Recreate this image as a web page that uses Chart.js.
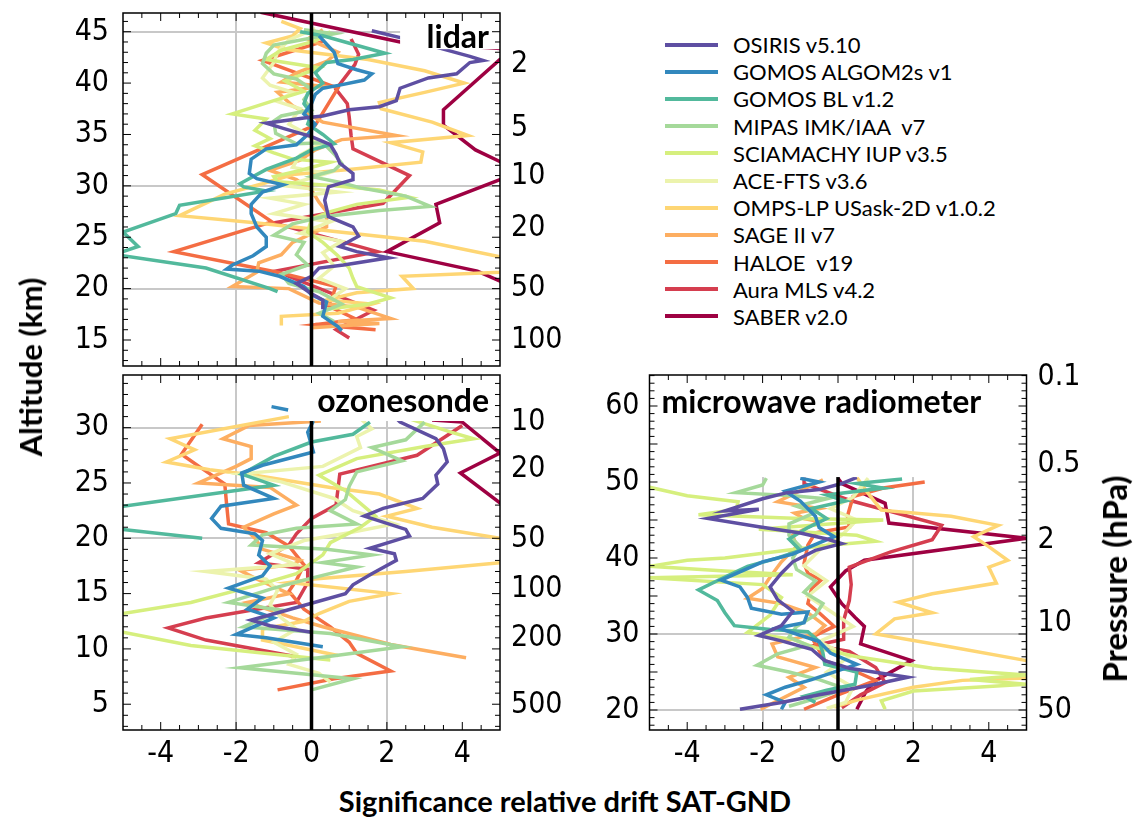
<!DOCTYPE html>
<html>
<head>
<meta charset="utf-8">
<script src="https://cdn.jsdelivr.net/npm/chart.js@4.4.0/dist/chart.umd.min.js"></script>
<style>
  body { margin: 0; background: #fff; width: 1134px; height: 819px; position: relative; overflow: hidden; font-family: Lato, "Open Sans", sans-serif; }
  canvas { position: absolute; }
  #lidar { left: 0; top: 0; }
  #sonde { left: 0; top: 340px; }
  #mwr { left: 570px; top: 340px; }
  .title { position: absolute; font-weight: bold; white-space: nowrap; color: #000; }
  #ytitle { left: 30px; top: 367px; font-size: 31px; transform: translate(-50%, -50%) rotate(-90deg); }
  #ptitle { left: 1114px; top: 579px; font-size: 33px; transform: translate(-50%, -50%) rotate(-90deg); }
  #xtitle { left: 565px; top: 800px; font-size: 29px; transform: translate(-50%, -50%); }
  #legend { position: absolute; left: 665px; top: 31px; }
  .item { height: 27.2px; display: flex; align-items: center; white-space: pre; font-size: 22px; color: #000; }
  .swatch { width: 53px; height: 4px; margin-right: 15px; }
</style>
</head>
<body>
<canvas id="lidar" width="570" height="372"></canvas>
<canvas id="sonde" width="570" height="442"></canvas>
<canvas id="mwr" width="564" height="442"></canvas>
<div class="title" id="ytitle">Altitude (km)</div>
<div class="title" id="ptitle">Pressure (hPa)</div>
<div class="title" id="xtitle">Significance relative drift SAT-GND</div>
<div id="legend"></div>
<script>
// Séries (ordem da legenda)
const seriesNames = ["OSIRIS v5.10", "GOMOS ALGOM2s v1", "GOMOS BL v1.2", "MIPAS IMK/IAA  v7", "SCIAMACHY IUP v3.5",
  "ACE-FTS v3.6", "OMPS-LP USask-2D v1.0.2", "SAGE II v7", "HALOE  v19", "Aura MLS v4.2", "SABER v2.0"];
const seriesColors = ["#5e4fa2", "#3288bd", "#52b99c", "#a5d99a", "#d6ef7e", "#ecf3ad", "#fed674", "#fdae61", "#f46d43", "#d53e4f", "#9e0142"];

// Eixos
const xTicks = [-4, -2, 0, 2, 4];
const xGrid = [-2, 2];

// --- lidar: [significance, altitude km] ---
const lidarAltTicks = [15, 20, 25, 30, 35, 40, 45];
const lidarGrid = [20, 30, 45];
const lidarPressLabels = ["2", "5", "10", "20", "50", "100"];
const lidarPressAlts = [41.8, 35.6, 30.9, 25.9, 20.0, 15.0];

const lidarOsiris = [[1.6,45.1],[2.6,44.2],[4.2,42.6],[4.55,42.2],[4.2,42.0],[3.85,40.9],[3.1,40.5],[2.35,39.5],[2.25,38.3],[1.8,37.7],[1.0,37.4],[0.3,36.8],[-0.2,36.6],[-1.2,36.1],[-0.75,35.6],[0,34.8],[0.5,34.0],[0.65,33.1],[0.75,32.2],[1.1,31.2],[1.1,30.6],[0.45,29.9],[0.35,28.6],[0.45,27.0],[1.1,26.0],[1.25,25.1],[0.75,24.1],[1.2,23.6],[2.05,23.0],[0.85,22.3],[0.2,22.0],[0,21.2],[-0.4,20.5],[0,19.5],[0.3,18.9],[0.3,18.0]];
const lidarAlgom = [[0.2,44.6],[0.6,43.0],[0.7,41.9],[1.2,41.3],[1.6,40.9],[1.4,40.3],[0.75,39.8],[0.3,39.5],[0.1,38.9],[0,38.0],[-0.2,37.0],[0.1,36.0],[-0.1,35.0],[-0.4,34.0],[-1.2,33.6],[-1.6,32.6],[-1.65,31.2],[-1.45,30.7],[-0.75,30.1],[-1.3,29.4],[-1.6,28.2],[-1.6,27.3],[-1.45,26.0],[-1.2,25.0],[-1.2,24.1],[-1.55,23.2],[-2.1,22.3],[-2.25,21.9],[-1.4,21.7],[-0.85,21.2],[-0.2,20.2],[0,19.4],[0.4,18.7],[0.3,17.3],[0.7,16.3],[0.8,15.9]];
const lidarGomosBL = [[-0.3,45.0],[0.3,44.6],[1.95,42.9],[1.1,42.3],[0.4,42.0],[0.1,41.0],[0.3,40.0],[-0.1,39.0],[-0.2,38.0],[0,37.0],[-0.1,36.0],[0.3,35.0],[0.6,34.1],[0,33.5],[-0.4,32.7],[-1.2,31.6],[-1.9,30.2],[-1.8,29.9],[-1.2,29.5],[-3.5,28.1],[-3.6,27.3],[-5,25.5],[-4.6,24.1],[-5,23.6],[-5.2,23.3],[-2.8,22.0],[-1.1,20.0],[-0.9,19.7]];
const lidarMipas = [[-0.2,45.2],[0.6,44.8],[-1.0,43.7],[-1.2,42.9],[-1.3,41.9],[-1.0,40.9],[-0.4,40.4],[0,39.4],[-0.2,38.4],[0,37.4],[-0.8,36.8],[-1.0,36.3],[-0.95,35.1],[-0.4,34.1],[0.3,34.2],[0.6,33.1],[0.8,32.2],[0.6,31.5],[0,30.9],[0.8,30.3],[1.3,29.8],[2.5,29.0],[3.15,28.0],[1.8,27.6],[0.3,27.0],[-0.5,26.3],[-1.0,25.2],[-0.2,24.5],[-0.4,23.3],[-0.1,22.3],[-0.8,21.4],[-0.6,20.5],[0.2,19.7],[0.8,18.5],[0.2,17.6],[0.6,16.8]];
const lidarSciamachy = [[0.5,45.0],[0.1,44.1],[-0.8,43.2],[-1.2,42.3],[0.2,41.5],[-0.7,40.2],[-0.2,39.2],[-1.0,38.3],[-2.1,37.0],[-1.2,36.5],[-1.5,35.4],[-1.1,34.6],[-1.5,33.9],[-1.0,33.2],[-0.5,32.6],[0.5,32.3],[-0.3,31.5],[-1.0,30.9],[-0.9,30.4],[0.6,30.0],[1.8,29.6],[2.6,28.9],[1.2,28.2],[0.5,27.5],[0,26.8],[-0.1,25.5],[0.3,24.5],[0.7,23.2],[1.0,22.0],[1.1,21.0],[1.2,20.2],[2.1,19.1],[1.5,18.5],[0.4,18.0]];
const lidarAce = [[0.1,45.3],[-0.6,44.2],[-0.9,43.0],[-1.0,42.0],[-1.3,40.5],[-1.1,39.8],[-0.5,39.1],[-0.9,38.2],[-0.3,37.5],[-0.6,36.0],[-0.2,35.2],[0.2,34.0],[-0.3,33.0],[-0.5,31.8],[0.4,31.2],[-0.7,30.0],[0.7,29.4],[-1.1,28.8],[-0.2,28.2],[-1.0,27.3],[0.5,26.5],[-0.3,25.4],[0.8,24.6],[0.3,23.5],[0.6,22.2],[0.2,21.0],[0.9,20.0],[0.5,19.0]];
const lidarOmps = [[-0.8,46.0],[-0.3,45.3],[-0.5,44.6],[-1.2,43.9],[-0.7,43.3],[0.6,42.7],[1.5,42.3],[3.0,41.2],[4.05,40.0],[3.0,39.1],[1.8,38.1],[1.85,37.5],[3.2,36.2],[4.15,34.9],[2.1,34.2],[2.95,33.3],[2.9,32.3],[1.0,31.6],[-0.5,31.1],[-1.3,30.2],[-2.3,29.2],[-3.5,27.1],[-1.5,26.4],[0.5,25.6],[3.0,24.6],[5.0,23.1],[6.0,22.5],[5.0,21.6],[2.4,21.2],[2.7,20.0],[1.2,19.6],[0.4,18.9],[1.6,18.5],[0.7,17.6],[-0.8,17.3],[-0.8,16.4]];
const lidarSage = [[0.3,45.2],[-0.1,44.3],[0.7,43.0],[0.4,42.1],[-0.4,41.0],[-0.8,40.1],[0.3,39.7],[-0.9,39.1],[-0.5,37.8],[0.3,36.2],[2.25,34.9],[0.8,34.5],[0.1,33.5],[-0.3,32.5],[-1.1,31.5],[-0.4,30.6],[0,29.6],[0.2,28.4],[0.4,27.5],[0.4,26.0],[-0.5,24.5],[-0.8,23.3],[-1.4,22.5],[-1.45,21.6],[-2.1,20.2],[-0.6,20.0],[0.2,18.6],[1.2,18.2],[2.1,17.1],[0.7,16.8],[1.8,16.6],[0,16.2]];
const lidarHaloe = [[0.35,44.1],[-1.3,42.2],[0.7,39.5],[0.1,35.9],[-2.9,31.1],[-1.05,26.5],[-3.65,23.6],[-0.9,21.6],[0.65,20.2],[0.45,18.3],[1.2,17.0],[0.1,16.5],[1.7,16.0]];
const lidarAura = [[1.05,44.3],[1.25,42.8],[1.15,41.8],[0.65,39.4],[0.95,38.0],[1.0,36.7],[1.05,34.9],[1.1,33.6],[2.6,31.0],[1.9,28.3],[-1.0,26.4],[1.75,23.6],[-0.95,21.7],[1.65,17.9],[0.65,16.0],[1.0,15.2]];
const lidarSaber = [[-1.35,46.9],[2.35,44.0],[6.5,43.0],[5.0,42.3],[3.5,37.4],[3.5,35.9],[4.35,33.5],[5.2,32.0],[5.6,31.5],[5.0,30.6],[3.3,28.2],[3.4,26.4],[2.0,23.6],[4.4,21.7],[5.2,20.4],[6.0,19.5]];

// --- ozonesonde ---
const sondeAltTicks = [5, 10, 15, 20, 25, 30];
const sondeGrid = [20, 30];
const sondePressLabels = ["10", "20", "50", "100", "200", "500"];
const sondePressAlts = [30.5, 26.2, 19.9, 15.4, 11.0, 4.9];

const sondeOsiris = [[2.2,31.0],[2.35,30.5],[3.3,29.0],[3.5,28.1],[3.6,26.9],[3.3,25.7],[3.35,24.9],[2.95,23.6],[1.9,22.7],[1.4,22.0],[2.5,20.8],[2.6,20.2],[1.55,19.1],[2.2,18.6],[2.25,18.0],[1.6,16.8],[1.1,15.8],[0.9,15.0],[-0.75,13.4],[-1.6,12.6],[-1.1,12.1],[0,11.5]];
const sondeAlgom = [[-1.06,31.9],[-0.62,31.6],null,[0.05,30.6],[-0.1,29.6],[0.05,27.8],[-1.3,26.6],[-1.85,25.9],[-1.8,24.8],[-1.0,23.6],[-2.4,22.9],[-2.65,21.8],[-2.4,20.9],[-1.5,20.4],[-1.3,19.8],[-1.4,18.5],[-1.1,17.5],[-1.3,16.6],[-2.2,15.5],[-1.3,14.6],[-1.7,13.6],[-1.0,12.8],[-2.0,11.3],[-1.2,11.0],[0.3,10.2]];
const sondeGomosBL = [[1.55,30.5],[1.1,29.4],[0,28.7],[-1.0,27.4],[-1.85,25.8],[-1.0,24.8],[-5,22.9],[-7,22.0],[-5,20.8],[-2.9,20.0]];
const sondeMipas = [[3.0,30.5],[2.5,28.9],[1.6,28.2],[2.4,27.0],[1.2,26.0],[1.0,24.7],[0.9,23.5],[0.5,22.5],[1.2,21.3],[-0.4,20.9],[-1.3,20.3],[-1.6,19.4],[0.4,19.0],[1.6,18.5],[0.3,17.8],[1.2,17.4],[0,16.4],[-1.0,15.5],[-2.2,14.2],[-0.8,13.5],[-1.8,12.0],[0.5,11.4],[2.4,10.2],[0.4,9.3],[-1.9,8.3],[-0.4,7.8],[1.1,7.3],[0,6.3]];
const sondeSciamachy = [[2.6,30.8],[3.7,29.6],[4.3,29.0],[3.0,28.3],[1.2,27.2],[0.2,25.7],[0.9,24.3],[1.7,22.0],[1.3,21.0],[0.5,19.6],[0.3,18.5],[-0.4,16.8],[-1.3,15.9],[-3.2,14.2],[-5,13.2],[-6,12.8],[-5,11.5],[-3.2,10.3],[-1.5,9.7],[0.5,9.0]];
const sondeAce = [[1.3,30.8],[1.6,29.9],[1.2,29.2],[1.3,28.2],[0.3,26.5],[-1.9,25.8],[-0.8,25.1],[0.6,23.6],[1.1,22.5],[2.2,21.3],[1.0,20.5],[-0.2,19.8],[-1.1,18.6],[-0.4,17.6],[-2.8,17.0],[-1.2,16.3],[-0.9,15.3],[-1.1,14.0],[-0.8,12.8],[-0.4,11.8],[-1.0,10.6],[-0.4,9.5],[-0.6,8.6],[0.2,7.8],[0.5,7.0]];
const sondeOmps = [[-0.6,31.0],[-3.75,29.0],[-3.1,28.0],[-3.85,26.9],[-2.7,26.2],[-1.5,25.7],[0.5,24.6],[1.8,24.0],[2.8,22.7],[2.0,22.0],[3.2,21.0],[5.0,20.0],[6.0,19.5],[5.5,18.5],[5.0,17.8],[2.5,17.0],[0,16.3],[-0.6,16.0],[2.1,15.0],[1.0,14.3],[0.2,13.2],[-0.2,12.5],[-1.3,11.8],[-1.3,10.8],[-0.7,10.4],[0.7,9.4]];
const sondeSage = [[0.25,30.6],[-1.65,30.2],[-2.35,29.0],[-1.6,28.3],[-1.6,27.2],[-2.0,26.5],[-3.0,25.0],[-1.1,24.6],[-0.4,23.0],[-1.0,22.2],[-1.8,21.0],[-1.5,20.0],[-1.3,19.0],[-0.3,18.0],[-0.5,17.6],[-1.9,17.1],[-1.5,16.4],[-0.6,15.0],[-1.7,14.2],[-0.5,12.8],[0.3,12.0],[2.1,10.4],[4.1,9.2]];
const sondeHaloe = [[-2.9,30.3],[-3.45,27.6],[-2.9,26.3],[-2.3,24.9],[-2.25,23.0],[-2.2,21.3],[-1.2,20.5],[-0.6,19.3],[-0.2,17.6],[-0.4,16.2],[-0.6,15.2],[-0.2,13.6],[0.5,12.0],[1.0,10.6],[1.2,9.6],[2.1,8.0],[0.6,7.3],[-0.9,6.3]];
const sondeAura = [[4.0,30.2],[2.8,27.5],[0.75,25.8],[0.65,23.0],[0,21.8],[-0.4,20.4],[-0.6,19.4],[-1.4,17.8],[-0.1,17.2],[-0.1,16.0],[-0.4,14.2],[-2.8,12.8],[-3.8,11.9],[-2.8,10.8],[-0.4,9.3]];
const sondeSaber = [[3.2,30.7],[4.0,30.5],[5.0,27.7],[3.95,25.9],[5.0,23.2],[6.0,22.0]];

// --- microwave radiometer ---
const mwrAltTicks = [20, 30, 40, 50, 60];
const mwrGrid = [20, 30, 45];
const mwrPressLabels = ["0.1", "0.5", "2", "10", "50"];
const mwrPressAlts = [63.8, 52.4, 42.4, 31.4, 20.0];

const mwrOsiris = [[0.5,50.6],[0.1,49.8],[-0.5,49.0],[-1.35,48.6],[-2.0,47.8],[-3.0,46.2],[-2.1,46.4],[-3.45,45.2],[-2.1,44.1],[-1.0,43.3],[-0.3,42.5],[0.1,41.9],[-0.6,41.0],[-1.2,39.5],[-1.5,38.0],[-1.8,36.2],[-1.6,34.5],[-1.2,33.0],[-1.5,31.1],[-2.1,29.8],[-1.5,29.1],[-0.7,28.0],[-0.35,26.5],[0.3,25.5],[1.85,24.3],[0.8,23.2],[-0.5,22.0],[-1.5,21.0],[-2.6,20.1]];
const mwrAlgom = [[-1.0,50.5],[-0.5,50.0],[-1.4,48.8],[-1.0,47.5],[-0.6,45.5],[-0.5,44.0],[-0.1,42.8],[-0.5,42.0],[-1.2,40.5],[-2.0,39.5],[-3.1,37.1],[-2.6,36.2],[-2.4,34.8],[-2.3,33.4],[-1.5,32.6],[-0.8,32.9],[-0.9,31.5],[-1.6,30.8],[-0.5,29.0],[-0.2,27.5],[0.5,26.0],[-0.7,24.0],[-1.4,23.0],[-1.9,22.0],[-1.4,21.0],[-1.5,20.1]];
const mwrGomosBL = [[1.7,50.4],[0.5,49.8],[1.2,49.2],[-0.3,48.3],[0.2,47.5],[-0.7,46.5],[-0.3,45.2],[-0.8,44.0],[-1.3,42.5],[-1.0,41.0],[-1.6,40.0],[-2.4,38.9],[-3.0,37.5],[-3.7,35.8],[-3.2,34.4],[-3.0,32.8],[-2.75,31.1],[-1.8,30.6],[-0.8,30.3],[-0.5,29.0],[-0.4,27.5],[-0.35,26.0],[0.5,25.0],[0.45,23.4],[-0.3,22.6],[-0.9,21.8],[-0.6,21.0]];
const mwrMipas = [[-1.9,50.5],[-2.0,49.6],[-2.7,48.6],[-1.2,48.2],[-0.3,47.8],[-1.1,46.8],[-0.6,46.0],[-1.3,44.5],[-1.3,43.0],[-1.0,41.5],[-1.2,40.0],[-1.1,38.5],[-0.6,37.0],[-0.9,35.5],[-0.4,34.0],[-0.6,32.5],[-1.1,31.0],[-1.3,29.6],[-0.8,28.5],[-1.6,27.4],[-2.15,25.9],[-1.3,25.0],[-0.5,24.0],[0.2,22.8],[-0.6,21.5],[-1.3,20.5]];
const mwrSciamachy = [[-5,49.3],[-4.0,48.2],[-2.65,47.4],[-2.7,46.4],[-3.7,45.7],[-1.0,45.2],[1.2,45.0],[-2.1,43.8],[0.5,43.0],[1.0,42.2],[-0.4,41.6],[-3.0,40.0],[-4.0,39.7],[-5,38.9],[-3.0,38.3],[-1.2,37.8],[-5,37.4],[-2.0,36.5],[-1.5,34.8],[-1.8,32.5],[-2.4,30.2],[-1.2,29.3],[-0.6,28.2],[0.5,27.0],[2.5,25.5],[5.0,24.6],[3.5,24.0],[5.0,23.4],[2.0,22.5],[1.15,21.2],[1.25,20.1]];
const mwrAce = [[0.8,50.5],[0.4,48.0],[-0.2,46.5],[0.5,45.0],[0.1,43.0],[-0.5,41.0],[-0.9,39.0],[-0.3,37.0],[-0.8,35.0],[-0.2,33.0],[0.4,31.0],[-0.5,29.0],[0.3,27.0],[-0.3,25.0],[0.4,23.0],[0.2,21.0],[-0.3,20.2]];
const mwrOmps = [[0.5,50.6],[0.8,48.5],[1.15,46.3],[3.0,45.5],[4.25,44.3],[3.6,42.8],[4.0,41.5],[4.5,39.7],[4.0,38.8],[4.2,36.7],[2.5,35.3],[1.6,34.2],[2.5,32.8],[1.5,32.0],[1.0,30.0],[3.0,28.3],[5.0,26.5],[6.0,26.0],[5.0,24.2],[3.3,23.9],[2.0,23.0],[0.5,21.3],[-0.1,20.4]];
const mwrSage = [[-0.4,50.3],[-1.6,47.4],[-0.5,46.5],[-1.15,45.9],[-0.9,45.2],[-0.5,44.8],[-1.2,43.0],[-1.1,41.5],[-1.5,39.5],[-1.8,37.5],[-2.0,36.0],[-2.4,34.7],[-1.5,34.0],[-0.8,32.8],[-0.35,31.1],[-0.6,30.0],[-1.75,28.7],[-1.6,27.0],[-0.6,25.6],[-1.3,24.3],[-0.9,23.0],[-2.05,20.1]];
const mwrHaloe = [[2.3,50.0],[1.2,49.2],[0.4,48.1],[0.25,45.5],[0.3,44.1],[-0.6,43.3],[-0.8,41.7],[-0.9,39.3],[-0.8,38.0],[-0.45,37.1],[-0.7,36.0],[-0.8,34.0],[-0.5,32.8],[-0.1,31.0],[-0.7,29.6],[-0.35,26.5],[0.5,25.0],[1.0,23.9],[0.0,22.0],[-0.9,20.1]];
const mwrAura = [[-0.9,50.6],[-0.9,49.8],[0.3,47.6],[2.75,44.3],[2.5,42.4],[1.4,40.8],[0.3,38.8],[0.35,36.5],[0.3,34.4],[0.15,31.8],[0.15,29.3],[-0.6,28.5],[0.3,27.7],[1.0,25.6],[1.25,23.6],[0.6,22.0],[0.1,20.3]];
const mwrSaber = [[0,50.5],[0.1,49.8],[1.25,47.2],[1.35,44.6],[5.0,42.6],[0.7,39.7],[0.2,38.3],[-0.2,36.2],[0.1,34.0],[0.45,32.2],[0.7,31.0],[0.6,28.7],[1.95,26.5],[1.0,23.9],[0.75,22.5],[0.5,20.1]];

const lidarSeries = [lidarOsiris, lidarAlgom, lidarGomosBL, lidarMipas, lidarSciamachy, lidarAce, lidarOmps, lidarSage, lidarHaloe, lidarAura, lidarSaber];
const sondeSeries = [sondeOsiris, sondeAlgom, sondeGomosBL, sondeMipas, sondeSciamachy, sondeAce, sondeOmps, sondeSage, sondeHaloe, sondeAura, sondeSaber];
const mwrSeries = [mwrOsiris, mwrAlgom, mwrGomosBL, mwrMipas, mwrSciamachy, mwrAce, mwrOmps, mwrSage, mwrHaloe, mwrAura, mwrSaber];

const tickFont = { family: "'Liberation Sans Narrow', 'DejaVu Sans Condensed', sans-serif", size: 30 };
const gray = "#c8c8c8";

// Moldura, linha zero, rótulo do painel e marcas internas
const framePlugin = {
  id: "frame",
  afterDatasetsDraw(chart, args, opts) {
    const { ctx, chartArea: a } = chart;
    const xs = chart.scales.x, ys = chart.scales.y;
    ctx.save();
    const x0 = xs.getPixelForValue(0);
    ctx.strokeStyle = "#000";
    ctx.lineWidth = 3.5;
    ctx.beginPath(); ctx.moveTo(x0, a.top); ctx.lineTo(x0, a.bottom); ctx.stroke();

    // caixa branca atrás do rótulo
    const bl = Math.max(a.left, xs.getPixelForValue(opts.box[0]));
    const br = Math.min(a.right, xs.getPixelForValue(opts.box[1]));
    const bb = ys.getPixelForValue(opts.box[2]);
    ctx.fillStyle = "#fff";
    ctx.fillRect(bl, a.top, br - bl, bb - a.top);

    ctx.fillStyle = "#000";
    ctx.font = "bold 32px Lato";
    ctx.textAlign = opts.align;
    ctx.textBaseline = "alphabetic";
    ctx.fillText(opts.label, opts.align === "left" ? a.left + 12 : a.right - 11, a.top + opts.labelY);

    ctx.lineWidth = 1.5;
    ctx.strokeRect(a.left, a.top, a.width, a.height);

    ctx.lineWidth = 1;
    ctx.beginPath();
    for (let v = -4.5; v < 5; v += 0.5) {
      const p = xs.getPixelForValue(v);
      const len = Number.isInteger(v / 2) ? 8 : 5;
      ctx.moveTo(p, a.bottom); ctx.lineTo(p, a.bottom - len);
      ctx.moveTo(p, a.top); ctx.lineTo(p, a.top + len);
    }
    for (let v = Math.ceil(ys.min); v < ys.max; v++) {
      const p = ys.getPixelForValue(v);
      const len = v % 5 === 0 ? 8 : 5;
      ctx.moveTo(a.left, p); ctx.lineTo(a.left + len, p);
      ctx.moveTo(a.right, p); ctx.lineTo(a.right - len, p);
    }
    ctx.stroke();
    ctx.restore();
  }
};

function noPad(s) {
  s.paddingTop = 0; s.paddingBottom = 0; s.paddingLeft = 0; s.paddingRight = 0;
}

function makePanel(id, series, cfg) {
  const datasets = series.map((pts, i) => ({
    label: seriesNames[i],
    data: pts.map((p) => (p ? { x: p[0], y: p[1] } : { x: null, y: null })),
    borderColor: seriesColors[i],
    showLine: true,
    spanGaps: false,
  }));
  return new Chart(document.getElementById(id), {
    type: "scatter",
    data: { datasets },
    plugins: [framePlugin],
    options: {
      responsive: false,
      animation: false,
      layout: { padding: { top: cfg.padTop, left: 0, right: 0, bottom: 0 } },
      elements: { point: { radius: 0 }, line: { borderWidth: 3.5, tension: 0 } },
      plugins: {
        legend: { display: false },
        tooltip: { enabled: false },
        frame: { label: cfg.label, align: cfg.align, labelY: cfg.labelY, box: cfg.box },
      },
      scales: {
        x: {
          type: "linear", min: -5, max: 5,
          afterBuildTicks: (s) => { s.ticks = xTicks.map((v) => ({ value: v })); },
          afterFit: (s) => { s.height = cfg.xHeight; noPad(s); },
          grid: { drawTicks: false, lineWidth: 2, color: (c) => (xGrid.includes(c.tick.value) ? gray : "rgba(0,0,0,0)") },
          border: { display: false },
          ticks: { display: cfg.xLabels, font: tickFont, color: "#000", padding: 6, autoSkip: false, maxRotation: 0 },
        },
        y: {
          type: "linear", position: "left", min: cfg.yMin, max: cfg.yMax,
          afterBuildTicks: (s) => { s.ticks = cfg.altTicks.map((v) => ({ value: v })); },
          afterFit: (s) => { s.width = cfg.leftW; noPad(s); },
          grid: { drawTicks: false, lineWidth: 2, color: (c) => (cfg.grid.includes(c.tick.value) ? gray : "rgba(0,0,0,0)") },
          border: { display: false },
          ticks: { font: tickFont, color: "#000", padding: cfg.leftPad, autoSkip: false },
        },
        y2: {
          type: "linear", position: "right", min: cfg.yMin, max: cfg.yMax,
          afterBuildTicks: (s) => { s.ticks = cfg.pressAlts.map((v) => ({ value: v })); },
          afterFit: (s) => { s.width = cfg.rightW; noPad(s); },
          grid: { drawOnChartArea: false, drawTicks: false },
          border: { display: false },
          ticks: { font: tickFont, color: "#000", padding: 11, autoSkip: false, callback: (v, i) => cfg.pressLabels[i] },
        },
      },
    },
  });
}

makePanel("lidar", lidarSeries, {
  label: "lidar", align: "right", labelY: 35, box: [2.35, 5, 43.3],
  padTop: 13, xHeight: 6, xLabels: false, leftW: 123, rightW: 70, leftPad: 14,
  yMin: 12.47, yMax: 46.82, altTicks: lidarAltTicks, grid: lidarGrid,
  pressAlts: lidarPressAlts, pressLabels: lidarPressLabels,
});
makePanel("sonde", sondeSeries, {
  label: "ozonesonde", align: "right", labelY: 37, box: [-0.58, 5, 30.6],
  padTop: 35, xHeight: 52, xLabels: true, leftW: 123, rightW: 70, leftPad: 14,
  yMin: 2.67, yMax: 34.76, altTicks: sondeAltTicks, grid: sondeGrid,
  pressAlts: sondePressAlts, pressLabels: sondePressLabels,
});
makePanel("mwr", mwrSeries, {
  label: "microwave radiometer", align: "left", labelY: 38, box: [-5, 5, 50.65],
  padTop: 35, xHeight: 52, xLabels: true, leftW: 79.5, rightW: 107.5, leftPad: 10,
  yMin: 17.37, yMax: 64.08, altTicks: mwrAltTicks, grid: mwrGrid,
  pressAlts: mwrPressAlts, pressLabels: mwrPressLabels,
});

// Legenda
const legend = document.getElementById("legend");
seriesNames.forEach((name, i) => {
  const row = document.createElement("div");
  row.className = "item";
  const sw = document.createElement("span");
  sw.className = "swatch";
  sw.style.background = seriesColors[i];
  row.appendChild(sw);
  row.appendChild(document.createTextNode(name));
  legend.appendChild(row);
});
</script>
</body>
</html>
